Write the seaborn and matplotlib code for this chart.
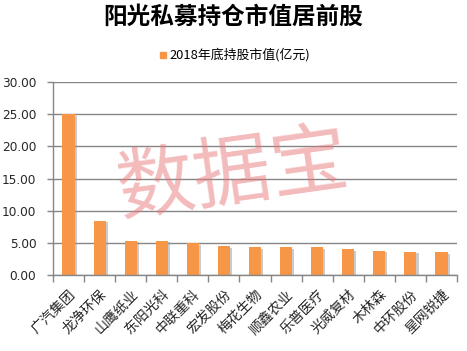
import matplotlib
matplotlib.use("Agg")
import matplotlib.pyplot as plt
import matplotlib.patheffects as pe
import seaborn as sns
import pandas as pd

categories = ["广汽集团", "龙净环保", "山鹰纸业", "东阳光科", "中联重科", "宏发股份", "梅花生物",
              "顺鑫农业", "乐普医疗", "光威复材", "木林森", "中环股份", "星网锐捷"]
values = [25.0, 8.4, 5.3, 5.35, 4.9, 4.45, 4.3, 4.3, 4.3, 4.0, 3.8, 3.65, 3.5]
yticks = [0, 5, 10, 15, 20, 25, 30]
title = "阳光私募持仓市值居前股"
series_name = "2018年底持股市值(亿元)"

sns.set_theme(style="white")
plt.rcParams['font.family'] = ['Noto Sans CJK SC', 'DejaVu Sans']

df = pd.DataFrame({"name": categories, "value": values})

fig = plt.figure(figsize=(4.67, 3.51), dpi=100)
ax = fig.add_axes([0.1135, 0.2165, 0.8651, 0.5499])

sns.barplot(data=df, x="name", y="value", color="#F79646", saturation=1, width=0.39, ax=ax)
for p in ax.patches:
    p.set_path_effects([pe.SimplePatchShadow(offset=(1.5, -1), shadow_rgbFace="#999999", alpha=0.5), pe.Normal()])
    p.set_edgecolor("none")

ax.set_ylim(0, 30)
ax.set_xlim(-0.5, len(categories) - 0.5)
ax.set_yticks(yticks)
ax.set_yticklabels([f"{v:.2f}" for v in yticks], fontsize=8.7, family=['DejaVu Sans'])
ax.yaxis.grid(True, color="#868686", linewidth=1)
ax.set_axisbelow(True)
ax.set_xlabel("")
ax.set_ylabel("")

ax.set_xticks(range(len(categories)))
ax.set_xticklabels(categories, rotation=45, ha="right", rotation_mode="anchor", fontsize=10)
ax.set_xticks([i - 0.5 for i in range(len(categories) + 1)], minor=True)
ax.tick_params(axis="x", which="major", length=0, pad=9)
ax.tick_params(axis="x", which="minor", length=5, color="#868686", width=1, bottom=True)
ax.tick_params(axis="y", which="major", length=4, color="#868686", width=1, left=True, pad=8)

for s in ["top", "right"]:
    ax.spines[s].set_visible(False)
for s in ["left", "bottom"]:
    ax.spines[s].set_color("#868686")
    ax.spines[s].set_linewidth(1)

fig.text(0.5, 0.952, title, ha="center", va="center", fontsize=17, fontweight="bold", color="black")
fig.patches.append(plt.Rectangle((0.342, 0.836), 0.013, 0.017, transform=fig.transFigure, color="#F79646"))
fig.text(0.362, 0.845, series_name, ha="left", va="center", fontsize=9.3, color="black")

fig.text(0.499, 0.496, "数据宝", ha="center", va="center", fontsize=56, color="#E87878", alpha=0.5,
         rotation=8, fontweight="normal")

fig.savefig("out.png", dpi=100)
